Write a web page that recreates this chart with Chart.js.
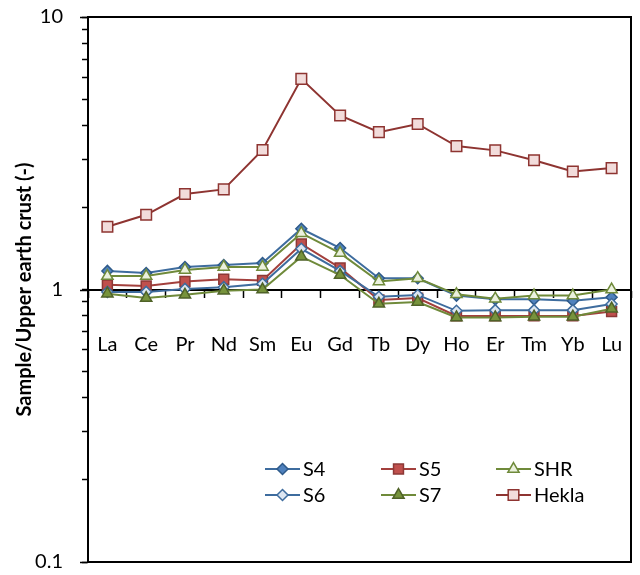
<!DOCTYPE html>
<html>
<head>
<meta charset="utf-8">
<script src="https://cdn.jsdelivr.net/npm/chart.js@4/dist/chart.umd.min.js"></script>
<style>
  html, body { margin: 0; padding: 0; background: #fff; }
  #wrap { width: 640px; height: 575px; }
</style>
</head>
<body>
<div id="wrap"><canvas id="c" width="640" height="575"></canvas></div>
<script>
// Rare earth elements (x categories)
const categories = ['La', 'Ce', 'Pr', 'Nd', 'Sm', 'Eu', 'Gd', 'Tb', 'Dy', 'Ho', 'Er', 'Tm', 'Yb', 'Lu'];

// Sample / upper earth crust ratios
const s4    = [1.17, 1.15, 1.21, 1.23, 1.25, 1.67, 1.42, 1.10, 1.10, 0.95, 0.92, 0.92, 0.91, 0.937];
const s5    = [1.04, 1.03, 1.07, 1.09, 1.08, 1.47, 1.20, 0.915, 0.93, 0.80, 0.80, 0.80, 0.80, 0.83];
const shr   = [1.12, 1.12, 1.18, 1.21, 1.21, 1.61, 1.36, 1.07, 1.10, 0.96, 0.925, 0.95, 0.95, 1.00];
const s6    = [0.98, 0.98, 1.005, 1.02, 1.05, 1.41, 1.17, 0.94, 0.955, 0.835, 0.84, 0.84, 0.84, 0.885];
const s7    = [0.965, 0.93, 0.956, 0.99, 1.00, 1.32, 1.13, 0.886, 0.90, 0.79, 0.79, 0.795, 0.795, 0.85];
const hekla = [1.70, 1.88, 2.24, 2.33, 3.25, 5.93, 4.35, 3.78, 4.05, 3.36, 3.24, 2.98, 2.71, 2.79];

// Log axis labels
const yTickLabels = ['0.1', '1', '10'];

const FONT = 'Lato, "Open Sans", sans-serif';

function series(label, data, line, fill, border, style, radius, order) {
  return {
    label, data, order,
    borderColor: line, borderWidth: 2,
    pointStyle: style, pointRadius: radius, pointHoverRadius: radius,
    pointBackgroundColor: fill, pointBorderColor: border, pointBorderWidth: 1.5,
    fill: false, tension: 0
  };
}

const datasets = [
  series('S4',    s4,    '#3E6C9E', '#4F81BD', '#2E5A8A', 'rectRot', 5.5, 6),
  series('S5',    s5,    '#A3403D', '#C0504D', '#8C3836', 'rect', 7, 5),
  series('SHR',   shr,   '#6F8A3A', '#EBF1DE', '#6F8A3A', 'triangle', 6.5, 4),
  series('S6',    s6,    '#3E6C9E', '#DCE6F2', '#3E6C9E', 'rectRot', 5.5, 3),
  series('S7',    s7,    '#6F8A3A', '#77933C', '#4F6228', 'triangle', 6.5, 2),
  series('Hekla', hekla, '#8E3431', '#F2DCDB', '#8E3431', 'rect', 7.5, 1)
];

function drawMarker(ctx, style, x, y, r) {
  ctx.beginPath();
  if (style === 'rectRot') {
    ctx.moveTo(x, y - r); ctx.lineTo(x + r, y); ctx.lineTo(x, y + r); ctx.lineTo(x - r, y);
  } else if (style === 'rect') {
    const s = r * Math.SQRT1_2;
    ctx.rect(x - s, y - s, 2 * s, 2 * s);
  } else {
    const a = 2 * Math.PI / 3;
    ctx.moveTo(x, y - r);
    ctx.lineTo(x + Math.sin(a) * r, y - Math.cos(a) * r);
    ctx.lineTo(x + Math.sin(2 * a) * r, y - Math.cos(2 * a) * r);
  }
  ctx.closePath();
  ctx.fill();
  ctx.stroke();
}

// Frame around the plot plus longer marks on the decade ticks
const framePlugin = {
  id: 'frame',
  afterDraw(chart) {
    const { ctx, chartArea: a, scales } = chart;
    ctx.save();
    ctx.strokeStyle = '#000';
    ctx.lineWidth = 2;
    ctx.strokeRect(a.left, a.top, a.right - a.left, a.bottom - a.top);
    ctx.lineWidth = 1.5;
    [0.1, 1, 10].forEach(v => {
      const y = Math.round(scales.y.getPixelForValue(v)) + 0.5;
      ctx.beginPath();
      ctx.moveTo(a.left - 8, y);
      ctx.lineTo(a.left, y);
      ctx.stroke();
    });
    ctx.restore();
  }
};

// Legend drawn inside the plot: three columns, two rows
const legendPlugin = {
  id: 'innerLegend',
  afterDraw(chart) {
    const { ctx, chartArea: a } = chart;
    const colX = [a.left + 177, a.left + 293, a.left + 408];
    const rowY = [a.top + 452, a.top + 478];
    ctx.save();
    ctx.font = '20px ' + FONT;
    ctx.textBaseline = 'middle';
    ctx.textAlign = 'left';
    datasets.forEach((d, i) => {
      const x0 = colX[i % 3];
      const y = rowY[Math.floor(i / 3)];
      ctx.strokeStyle = d.borderColor;
      ctx.lineWidth = 2;
      ctx.beginPath();
      ctx.moveTo(x0, y);
      ctx.lineTo(x0 + 35, y);
      ctx.stroke();
      ctx.fillStyle = d.pointBackgroundColor;
      ctx.strokeStyle = d.pointBorderColor;
      ctx.lineWidth = d.pointBorderWidth;
      drawMarker(ctx, d.pointStyle, x0 + 17.5, y, d.pointRadius);
      ctx.fillStyle = '#000';
      ctx.fillText(d.label, x0 + 38, y + 1);
    });
    ctx.restore();
  }
};

function noPad(scale) {
  scale.paddingLeft = 0; scale.paddingRight = 0;
  scale.paddingTop = 0; scale.paddingBottom = 0;
}

new Chart(document.getElementById('c'), {
  type: 'line',
  data: { labels: categories, datasets },
  options: {
    responsive: false,
    animation: false,
    events: [],
    layout: { padding: { top: 17, right: 2, bottom: 13, left: 0 } },
    plugins: { legend: { display: false }, tooltip: { enabled: false } },
    scales: {
      x: {
        type: 'category',
        offset: true,
        position: { y: 1 },
        grid: {
          display: true, offset: true, drawOnChartArea: false, drawTicks: true,
          tickLength: 7, tickWidth: 1.5, tickColor: '#000'
        },
        border: { display: true, color: '#000', width: 2 },
        ticks: {
          color: '#000', font: { family: FONT, size: 20 },
          padding: 36, maxRotation: 0, autoSkip: false
        },
        afterFit(scale) { scale.height = 0; noPad(scale); }
      },
      y: {
        type: 'logarithmic',
        position: 'left',
        min: 0.1,
        max: 10,
        afterBuildTicks(scale) {
          const vals = [];
          [0.1, 1].forEach(base => {
            for (let k = 1; k < 10; k++) vals.push(Math.round(k * base * 10) / 10);
          });
          vals.push(10);
          scale.ticks = vals.map(v => ({ value: v }));
        },
        ticks: {
          autoSkip: false,
          color: '#000',
          font: { family: FONT, size: 20 },
          padding: 19,
          callback(v) {
            const i = [0.1, 1, 10].findIndex(m => Math.abs(m - v) < 1e-9);
            return i >= 0 ? yTickLabels[i] : '';
          }
        },
        grid: {
          drawOnChartArea: false, drawTicks: true,
          tickLength: 6, tickWidth: 1.5, tickColor: '#000'
        },
        border: { display: true, color: '#000', width: 2 },
        title: {
          display: true,
          text: 'Sample/Upper earth crust (-)',
          color: '#000',
          font: { family: FONT, size: 20, weight: 'bold' },
          padding: { top: 13, bottom: 0 }
        },
        afterFit(scale) { scale.width = 88; noPad(scale); }
      }
    }
  },
  plugins: [framePlugin, legendPlugin]
});
</script>
</body>
</html>
